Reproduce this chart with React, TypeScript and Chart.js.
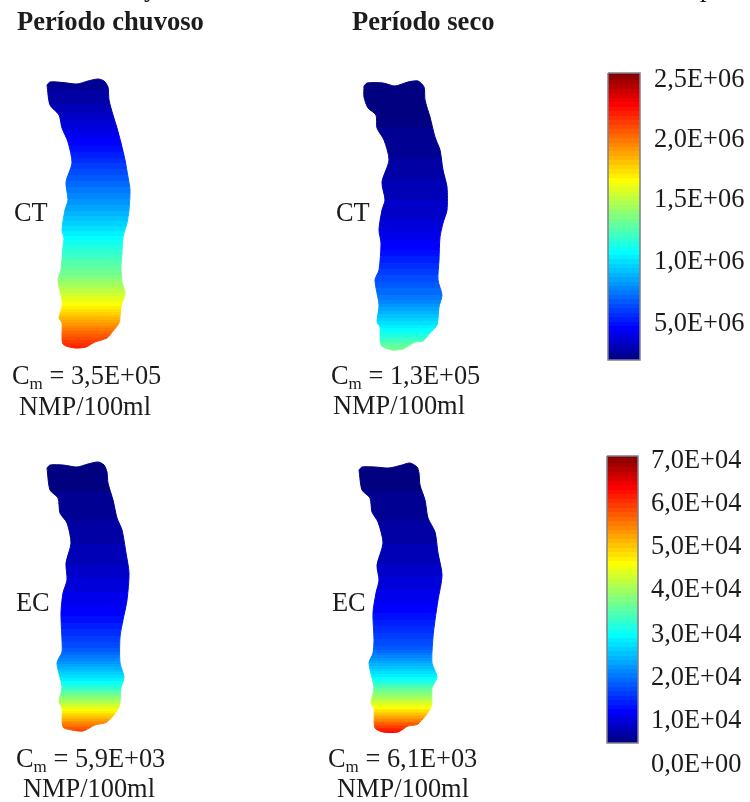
import React, { useEffect, useRef } from "react";
import { Chart, registerables } from "chart.js";

Chart.register(...registerables);

// Outlines of the four maps as [x, y] in image units.
const ctRainyOutline = [[47,85],[50,82],[63,82.5],[77,84],[88,81],[98,79],[104,81],[108,87],[109,100],[113,115],[117,128],[121,143],[125,160],[128,177],[130,190],[129,210],[127,223],[123,237],[122,253],[121,267],[122,282],[125,293],[121,307],[119,323],[113,331],[107,338],[95,342],[86,347],[75,348],[63,344],[62,323],[59,318],[62,307],[62,300],[58,280],[61,270],[63,247],[64,238],[62,230],[65,210],[68,200],[66,182],[72,163],[68,142],[62,128],[59,115],[50,105]];
const ctDryOutline = [[364,86],[367,83],[383,83],[395,86],[408,82],[418,81],[424,87],[425,100],[430,117],[435,137],[440,150],[443,170],[447,187],[447,210],[443,223],[440,237],[439,260],[438,280],[442,295],[439,307],[437,325],[430,333],[423,341],[415,342],[403,349],[392,350],[381,345],[380,327],[377,322],[379,305],[375,280],[379,270],[381,243],[379,230],[382,210],[385,200],[382,182],[389,160],[384,140],[377,128],[376,115],[368,108],[364,97]];
const ecRainyOutline = [[47,468],[50,465],[63,465],[77,467],[88,464],[98,462],[104,465],[107,472],[108,483],[113,500],[117,518],[122,530],[126,553],[129,573],[127,600],[123,620],[120,637],[120,663],[124,677],[121,688],[119,707],[107,722],[95,725],[83,731],[72,730],[63,727],[62,708],[59,702],[62,687],[57,663],[62,652],[62,640],[61,613],[63,593],[67,580],[66,563],[71,543],[67,523],[60,513],[58,498],[50,490]];
const ecDryOutline = [[359,470],[362,467],[375,467],[389,468],[402,465],[410,463],[417,467],[419,473],[420,485],[425,500],[428,518],[435,532],[438,553],[442,575],[438,600],[435,620],[433,637],[432,663],[437,677],[432,688],[431,707],[418,724],[408,726],[398,732],[383,732],[375,728],[374,708],[371,703],[374,688],[369,663],[373,653],[374,640],[373,613],[376,593],[379,580],[377,565],[383,543],[378,522],[372,512],[370,498],[362,490]];

// Colour-scale fraction reached along each map: [y, fraction of the colour bar].
const ctRainyLevels = [[78,0.01],[105,0.04],[143,0.11],[215,0.3],[238,0.375],[277,0.5],[305,0.625],[327,0.75],[349,0.87]];
const ctDryLevels = [[80,0],[140,0.01],[220,0.07],[247,0.11],[300,0.24],[330,0.375],[351,0.5]];
const ecRainyLevels = [[460,0],[500,0.01],[560,0.05],[613,0.11],[650,0.2],[682,0.375],[710,0.625],[732,0.84]];
const ecDryLevels = [[460,0],[500,0.01],[560,0.05],[610,0.11],[648,0.2],[678,0.375],[708,0.625],[733,0.89]];

// Colour bars
const bar1Ticks = ["2,5E+06", "2,0E+06", "1,5E+06", "1,0E+06", "5,0E+06"];
const bar2Ticks = ["7,0E+04", "6,0E+04", "5,0E+04", "4,0E+04", "3,0E+04", "2,0E+04", "1,0E+04", "0,0E+00"];
const bar1TickY = [80, 140, 200, 262, 324];
const bar2TickY = [461, 504, 547, 590, 635, 678, 721, 765];
const bar1Box = [[608,73],[640,73],[640,360],[608,360]];
const bar2Box = [[607,456],[638,456],[638,743],[607,743]];

// Headings and notes
const clippedLine = [
  { text: "y", x: 144, y: -4 },
  { text: "p", x: 700, y: -4 },
];
const headings = [
  { text: "Período chuvoso", x: 17, y: 30 },
  { text: "Período seco", x: 352, y: 30 },
];
const indicators = [
  { text: "CT", x: 14, y: 221 },
  { text: "CT", x: 336, y: 221 },
  { text: "EC", x: 16, y: 611 },
  { text: "EC", x: 332, y: 611 },
];
const meanValues = [
  { text: "3,5E+05", x: 12, y: 384 },
  { text: "1,3E+05", x: 331, y: 384 },
  { text: "5,9E+03", x: 16, y: 767 },
  { text: "6,1E+03", x: 328, y: 767 },
];
const units = [
  { text: "NMP/100ml", x: 19, y: 415 },
  { text: "NMP/100ml", x: 333, y: 414 },
  { text: "NMP/100ml", x: 23, y: 797 },
  { text: "NMP/100ml", x: 337, y: 797 },
];

const SERIF = '"Liberation Serif", serif';
const BAND_COUNT = 64;

function jet(t: number): string {
  const stops: [number, number[]][] = [
    [0, [0, 0, 128]],
    [0.11, [0, 0, 255]],
    [0.375, [0, 255, 255]],
    [0.625, [255, 255, 0]],
    [0.89, [255, 0, 0]],
    [1, [128, 0, 0]],
  ];
  for (let i = 1; i < stops.length; i++) {
    if (t <= stops[i][0]) {
      const [a, ca] = stops[i - 1];
      const [b, cb] = stops[i];
      const f = (t - a) / (b - a);
      const c = ca.map((v, k) => Math.round(v + (cb[k] - v) * f));
      return `rgb(${c[0]},${c[1]},${c[2]})`;
    }
  }
  return "rgb(128,0,0)";
}

function levelAt(levels: number[][], y: number): number {
  if (y <= levels[0][0]) return levels[0][1];
  for (let i = 1; i < levels.length; i++) {
    if (y <= levels[i][0]) {
      const [y0, t0] = levels[i - 1];
      const [y1, t1] = levels[i];
      return t0 + ((y - y0) / (y1 - y0)) * (t1 - t0);
    }
  }
  return levels[levels.length - 1][1];
}

function bandFill(levels: number[][]) {
  return (ctx: any) => {
    const { chart } = ctx;
    const yScale = chart.scales.y;
    if (!yScale) return "#000080";
    const yA = levels[0][0];
    const yB = levels[levels.length - 1][0];
    const pa = yScale.getPixelForValue(yA);
    const pb = yScale.getPixelForValue(yB);
    if (!Number.isFinite(pa) || !Number.isFinite(pb)) return "#000080";
    const g = chart.ctx.createLinearGradient(0, pa, 0, pb);
    let prev = -1;
    for (let y = yA; y <= yB; y += 0.5) {
      const band = Math.round(levelAt(levels, y) * BAND_COUNT) / BAND_COUNT;
      const s = (y - yA) / (yB - yA);
      if (band !== prev) {
        if (prev >= 0) g.addColorStop(s, jet(prev));
        g.addColorStop(s, jet(band));
        prev = band;
      }
    }
    g.addColorStop(1, jet(prev));
    return g;
  };
}

function barFill(box: number[][]) {
  const top = box[0][1];
  const bottom = box[2][1];
  return bandFill([[top, 1], [bottom, 0]]);
}

const toPoints = (list: number[][]) => {
  const pts = list.map(([x, y]) => ({ x, y }));
  pts.push({ ...pts[0] });
  return pts;
};

function mapDataset(outline: number[][], levels: number[][]) {
  const fill = bandFill(levels);
  return {
    type: "line" as const,
    data: toPoints(outline),
    showLine: true,
    fill: "shape",
    backgroundColor: fill,
    borderColor: fill,
    borderWidth: 1,
    tension: 0.25,
    pointRadius: 0,
  };
}

function boxDataset(box: number[][]) {
  return {
    type: "line" as const,
    data: toPoints(box),
    showLine: true,
    fill: "shape",
    backgroundColor: barFill(box),
    borderColor: "#80808a",
    borderWidth: 1.5,
    tension: 0,
    pointRadius: 0,
  };
}

const textPlugin = {
  id: "figureText",
  afterDatasetsDraw(chart: any) {
    const { ctx, scales } = chart;
    const px = (x: number) => scales.x.getPixelForValue(x);
    const py = (y: number) => scales.y.getPixelForValue(y);
    ctx.save();
    ctx.fillStyle = "#1c1c1c";
    ctx.textBaseline = "alphabetic";
    ctx.textAlign = "left";
    ctx.font = `bold 26.6px ${SERIF}`;
    headings.forEach((h) => ctx.fillText(h.text, px(h.x), py(h.y)));
    ctx.font = `26.4px ${SERIF}`;
    clippedLine.forEach((h) => ctx.fillText(h.text, px(h.x), py(h.y)));
    indicators.forEach((h) => ctx.fillText(h.text, px(h.x), py(h.y)));
    units.forEach((h) => ctx.fillText(h.text, px(h.x), py(h.y)));
    ctx.textBaseline = "middle";
    bar1Ticks.forEach((t, i) => {
      ctx.fillText(t, px(654), py(bar1TickY[i]));
    });
    bar2Ticks.forEach((t, i) => {
      ctx.fillText(t, px(651), py(bar2TickY[i]));
    });
    ctx.textBaseline = "alphabetic";
    meanValues.forEach((m) => {
      const x = px(m.x);
      const y = py(m.y);
      ctx.font = `26.4px ${SERIF}`;
      ctx.fillText("C", x, y);
      const cw = ctx.measureText("C").width;
      ctx.font = `17px ${SERIF}`;
      ctx.fillText("m", x + cw, y + 5);
      const mw = ctx.measureText("m").width;
      ctx.font = `26.4px ${SERIF}`;
      ctx.fillText(" = " + m.text, x + cw + mw, y);
    });
    ctx.restore();
  },
};

export default function App() {
  const ref = useRef<HTMLCanvasElement | null>(null);
  useEffect(() => {
    document.body.style.margin = "0";
    document.body.style.background = "#fff";
    const chart = new Chart(ref.current as HTMLCanvasElement, {
      type: "scatter",
      data: {
        datasets: [
          mapDataset(ctRainyOutline, ctRainyLevels),
          mapDataset(ctDryOutline, ctDryLevels),
          mapDataset(ecRainyOutline, ecRainyLevels),
          mapDataset(ecDryOutline, ecDryLevels),
          boxDataset(bar1Box),
          boxDataset(bar2Box),
        ] as any,
      },
      options: {
        animation: false,
        responsive: false,
        layout: { padding: 0 },
        plugins: { legend: { display: false }, tooltip: { enabled: false } },
        scales: {
          x: { type: "linear", min: 0, max: 750, display: false },
          y: { type: "linear", min: 0, max: 802, reverse: true, display: false },
        },
      },
      plugins: [textPlugin],
    });
    return () => chart.destroy();
  }, []);
  return <canvas ref={ref} width={750} height={802} style={{ display: "block" }} />;
}
